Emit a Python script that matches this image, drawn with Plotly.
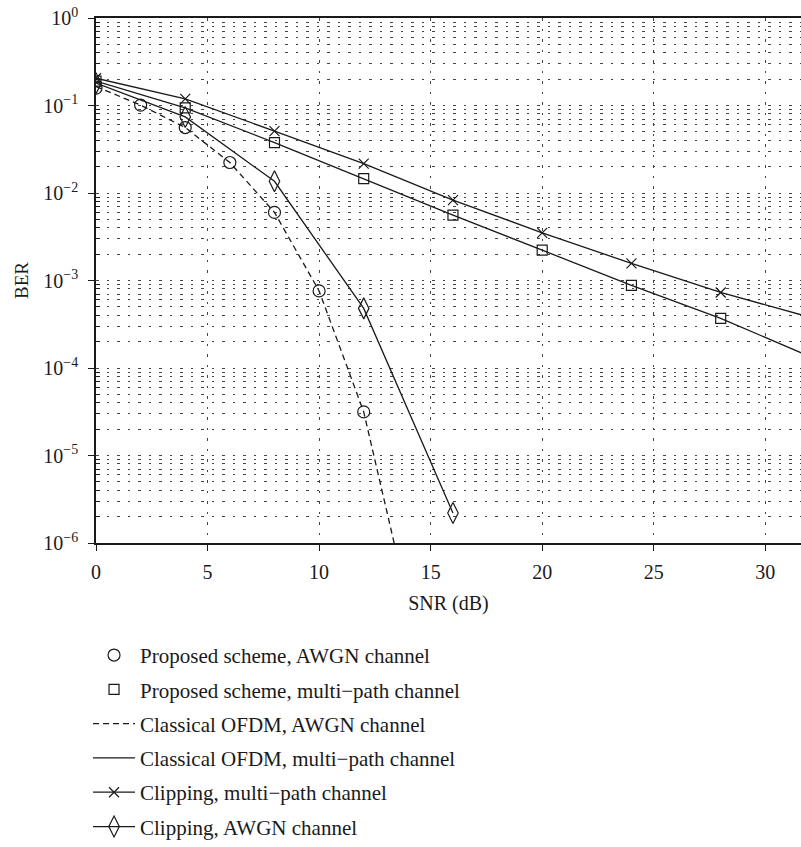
import plotly.graph_objects as go

# ---- data ----
snr_awgn = [0, 2, 4, 6, 8, 10, 12]
ber_prop_awgn = [0.158, 0.101, 0.056, 0.0223, 0.0060, 7.6e-4, 3.15e-5]

snr_mp = [0, 4, 8, 12, 16, 20, 24, 28]
ber_prop_mp = [0.190, 0.094, 0.0377, 0.0146, 0.0056, 0.00222, 8.8e-4, 3.7e-4]

snr_cl_awgn = [0, 2, 4, 6, 8, 10, 12, 14]
ber_cl_awgn = [0.165, 0.101, 0.056, 0.0223, 0.0060, 7.6e-4, 3.15e-5, 2.0e-7]

snr_cl_mp = [0, 4, 8, 12, 16, 20, 24, 28, 32]
ber_cl_mp = [0.190, 0.094, 0.0377, 0.0146, 0.0056, 0.00222, 8.8e-4, 3.7e-4, 1.35e-4]

snr_clip_mp = [0, 4, 8, 12, 16, 20, 24, 28, 32]
ber_clip_mp = [0.205, 0.119, 0.051, 0.0217, 0.0083, 0.0035, 0.00157, 7.3e-4, 3.8e-4]

snr_clip_awgn = [0, 4, 8, 12, 16]
ber_clip_awgn = [0.180, 0.074, 0.0136, 4.8e-4, 2.2e-6]

names = [
    "Proposed scheme, AWGN channel",
    "Proposed scheme, multi\u2212path channel",
    "Classical OFDM, AWGN channel",
    "Classical OFDM, multi\u2212path channel",
    "Clipping, multi\u2212path channel",
    "Clipping, AWGN channel",
]

x_ticks = [0, 5, 10, 15, 20, 25, 30]
y_exps = [-6, -5, -4, -3, -2, -1, 0]

FONT = "Liberation Serif"
BLACK = "#1a1a1a"

fig = go.Figure()
mk_line = dict(color=BLACK, width=1.2)

fig.add_trace(go.Scatter(x=snr_awgn, y=ber_prop_awgn, mode="markers", name=names[0],
                         legendgroup="a",
                         marker=dict(symbol="circle-open", size=12, color=BLACK, line=mk_line)))
fig.add_trace(go.Scatter(x=snr_mp, y=ber_prop_mp, mode="markers", name=names[1],
                         legendgroup="b",
                         marker=dict(symbol="square-open", size=10, color=BLACK, line=mk_line)))
fig.add_trace(go.Scatter(x=snr_cl_awgn, y=ber_cl_awgn, mode="lines", name=names[2],
                         legendgroup="c",
                         line=dict(color=BLACK, width=1.3, dash="6px,4px")))
fig.add_trace(go.Scatter(x=snr_cl_mp, y=ber_cl_mp, mode="lines", name=names[3],
                         legendgroup="d",
                         line=dict(color=BLACK, width=1.3)))
fig.add_trace(go.Scatter(x=snr_clip_mp, y=ber_clip_mp, mode="lines+markers", name=names[4],
                         legendgroup="e",
                         line=dict(color=BLACK, width=1.3),
                         marker=dict(symbol="x-thin-open", size=10, color=BLACK, line=mk_line)))
fig.add_trace(go.Scatter(x=snr_clip_awgn, y=ber_clip_awgn, mode="lines+markers", name=names[5],
                         legendgroup="f",
                         line=dict(color=BLACK, width=1.3),
                         marker=dict(symbol="diamond-tall-open", size=15, color=BLACK, line=mk_line)))

minor_vals = [m * 10 ** e for e in y_exps[:-1] for m in range(2, 10)]
grid_dash = "2.5px,8px"

fig.update_layout(
    width=801, height=847,
    margin=dict(l=96, r=0, t=18, b=302),
    plot_bgcolor="white", paper_bgcolor="white",
    font=dict(family=FONT, size=20, color=BLACK),
    showlegend=True,
    legend=dict(x=-0.0113, xanchor="left", y=-0.175, yanchor="top",
                traceorder="grouped", tracegroupgap=4, itemwidth=42,
                font=dict(family=FONT, size=21, color=BLACK),
                bgcolor="rgba(0,0,0,0)"),
    xaxis=dict(
        range=[0, 31.6], tickvals=x_ticks, ticktext=[str(v) for v in x_ticks],
        showline=True, linecolor=BLACK, linewidth=1.5, mirror=True,
        ticks="outside", ticklen=6, tickcolor=BLACK, ticklabelstandoff=4,
        showgrid=True, gridcolor="#444", gridwidth=1, griddash=grid_dash,
        zeroline=False,
        title=dict(text="SNR (dB)", font=dict(family=FONT, size=20), standoff=14),
        tickfont=dict(family=FONT, size=20),
    ),
    yaxis=dict(
        type="log", range=[-6, 0],
        tickvals=[10 ** e for e in y_exps],
        ticktext=["10<sup>\u2212%d</sup>" % (-e) if e < 0 else "10<sup>0</sup>" for e in y_exps],
        showline=True, linecolor=BLACK, linewidth=1.5, mirror=False,
        ticks="outside", ticklen=6, tickcolor=BLACK, ticklabelstandoff=6,
        showgrid=True, gridcolor="#444", gridwidth=1, griddash=grid_dash,
        zeroline=False,
        minor=dict(tickmode="array", tickvals=minor_vals, ticks="inside", ticklen=4,
                   tickcolor=BLACK, showgrid=True, gridcolor="#444", gridwidth=1,
                   griddash=grid_dash),
        title=dict(text="BER", font=dict(family=FONT, size=19), standoff=10),
        tickfont=dict(family=FONT, size=20),
    ),
)

fig.write_html("out.html")
